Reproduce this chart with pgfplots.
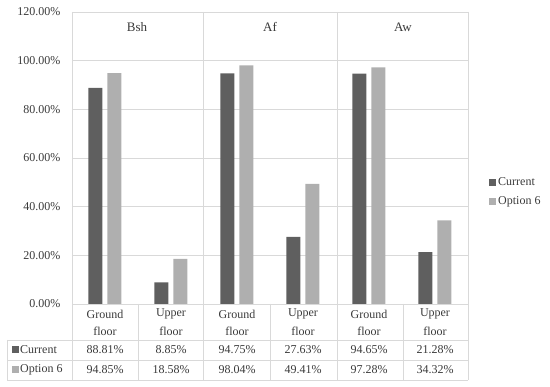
\documentclass[border=0pt]{standalone}
\usepackage{fontspec}
\setmainfont{Liberation Serif}
\usepackage{pgfplots}
\pgfplotsset{compat=1.18}
\definecolor{cur}{HTML}{5F5F5F}
\definecolor{opt}{HTML}{AFAFAF}
\definecolor{gridc}{HTML}{D9D9D9}
\definecolor{txt}{HTML}{3A3A3A}
\begin{document}
\begin{tikzpicture}[x=1pt,y=1pt,font=\fontsize{12}{14}\selectfont]
\useasboundingbox (0,0) rectangle (550,-387);
\begin{axis}[at={(72pt,-304pt)}, anchor=south west, scale only axis,
  width=396pt, height=292pt,
  xmin=-0.5, xmax=5.5, ymin=0, ymax=120,
  axis line style={draw=none}, xtick=\empty, ytick={0,20,...,120},
  ymajorgrids, grid style={gridc, line width=0.8pt}, major tick length=0pt,
  /pgf/number format/assume math mode=true,
  yticklabel={\pgfmathprintnumber[fixed,fixed zerofill,precision=2]{\tick}\%},
  yticklabel style={font=\fontsize{12}{14}\selectfont, text=txt, xshift=-8pt},
  ybar, bar width=14pt, clip=false,
  legend style={at={(1.053,0.384)}, anchor=west, draw=none, fill=none,
    font=\fontsize{12}{14}\selectfont, text=txt, row sep=5pt, inner sep=0pt},
  legend cell align=left,
  legend image code/.code={\fill[#1] (0pt,-3.5pt) rectangle (7pt,3.5pt);},
]
\addplot[fill=cur, draw=none, bar shift=-9.5pt] coordinates {(0,88.81) (1,8.85) (2,94.75) (3,27.63) (4,94.65) (5,21.28)};
\addplot[fill=opt, draw=none, bar shift=9.5pt] coordinates {(0,94.85) (1,18.58) (2,98.04) (3,49.41) (4,97.28) (5,34.32)};
\legend{Current, Option 6}
\end{axis}
\begin{scope}[gridc, line width=0.8pt]
\foreach \x in {72,203,337,468} \draw (\x,-12) -- (\x,-380);
\foreach \x in {138,270,403} \draw (\x,-304) -- (\x,-380);
\draw (7,-340) -- (7,-380);
\foreach \y in {-340,-360,-380} \draw (7,\y) -- (468,\y);
\end{scope}
\begin{scope}[text=txt]
\node[font=\fontsize{13}{15}\selectfont] at (137,-27) {Bsh};
\node[font=\fontsize{13}{15}\selectfont] at (270,-27) {Af};
\node[font=\fontsize{13}{15}\selectfont] at (403,-27) {Aw};
\foreach \x/\a in {105/Ground,171/Upper,237/Ground,303/Upper,369/Ground,435/Upper}{
  \node at (\x,-314) {\a};
  \node at (\x,-331) {floor};
}
\fill[cur] (12,-346.5) rectangle (18.5,-353);
\node[anchor=west, inner sep=0pt] at (20,-350) {Current};
\fill[opt] (12,-366.5) rectangle (18.5,-373);
\node[anchor=west, inner sep=0pt] at (20,-370) {Option 6};
\foreach \x/\v in {105/88.81,171/8.85,237/94.75,303/27.63,369/94.65,435/21.28}
  \node at (\x,-350) {\v\%};
\foreach \x/\v in {105/94.85,171/18.58,237/98.04,303/49.41,369/97.28,435/34.32}
  \node at (\x,-370) {\v\%};
\end{scope}
\end{tikzpicture}
\end{document}
